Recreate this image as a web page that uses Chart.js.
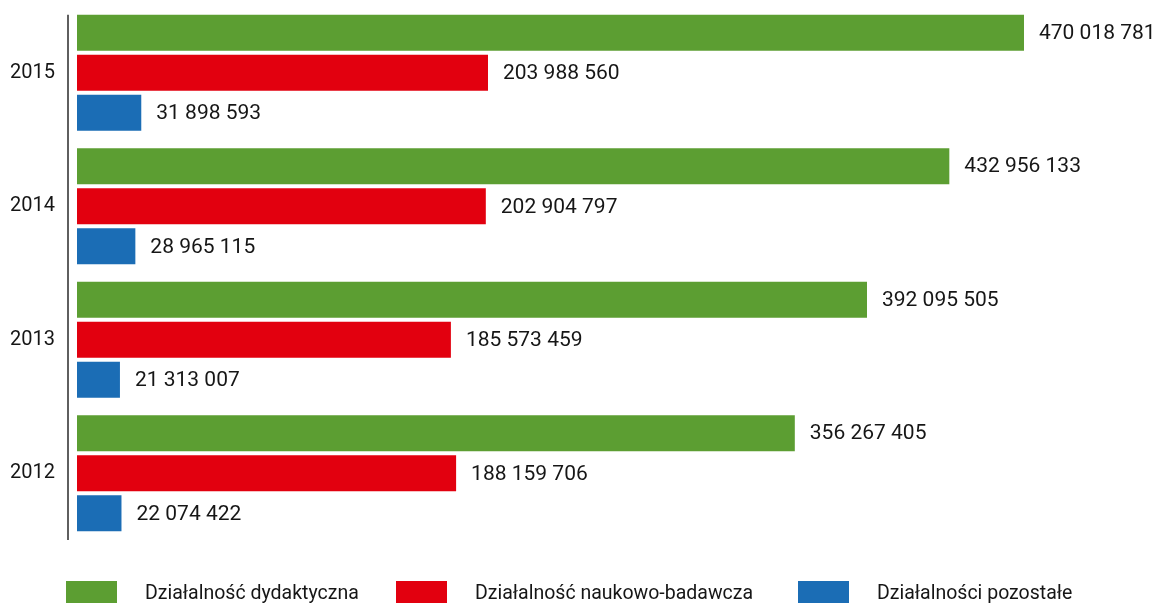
<!DOCTYPE html>
<html lang="pl">
<head>
<meta charset="utf-8">
<title>Działalność – przychody 2012–2015</title>
<script src="https://cdn.jsdelivr.net/npm/chart.js@4.4.1/dist/chart.umd.min.js"></script>
<style>
  html, body { margin: 0; padding: 0; background: #ffffff; overflow: hidden; }
  #wrap { position: relative; width: 1160px; height: 603px; }
</style>
</head>
<body>
<div id="wrap"><canvas id="chart" width="1160" height="603"></canvas></div>
<script>
// Years, top to bottom
const years = ['2015', '2014', '2013', '2012'];

// Series names
const seriesNames = [
  'Działalność dydaktyczna',
  'Działalność naukowo-badawcza',
  'Działalności pozostałe'
];

// Values per series, in the same order as the years
const dydaktyczna = [470018781, 432956133, 392095505, 356267405];
const naukowoBadawcza = [203988560, 202904797, 185573459, 188159706];
const pozostale = [31898593, 28965115, 21313007, 22074422];

const seriesColors = ['#5c9e32', '#e2000f', '#1b6db5'];

const FONT = 'Roboto, "Liberation Sans", sans-serif';
const TEXT = '#161616';

// Numbers with spaces as thousands separators
function fmt(v) {
  return String(v).replace(/\B(?=(\d{3})+(?!\d))/g, ' ');
}

// Vertical axis line, from the top of the first bar down to the bottom of the plot
const axisLine = {
  id: 'axisLine',
  beforeDatasetsDraw(chart) {
    const first = chart.getDatasetMeta(0).data[0];
    if (!first) return;
    const {ctx, chartArea} = chart;
    const top = first.y - first.height / 2;
    ctx.save();
    ctx.strokeStyle = '#2a2a2a';
    ctx.lineWidth = 1.5;
    ctx.beginPath();
    ctx.moveTo(chartArea.left, top);
    ctx.lineTo(chartArea.left, chartArea.bottom);
    ctx.stroke();
    ctx.restore();
  }
};

// Value written to the right of each bar
const valueLabels = {
  id: 'valueLabels',
  afterDatasetsDraw(chart) {
    const ctx = chart.ctx;
    ctx.save();
    ctx.font = '21px ' + FONT;
    ctx.fillStyle = TEXT;
    ctx.textAlign = 'left';
    ctx.textBaseline = 'middle';
    chart.data.datasets.forEach((ds, di) => {
      chart.getDatasetMeta(di).data.forEach((bar, i) => {
        ctx.fillText(fmt(ds.data[i]), bar.x + 15, bar.y + 1);
      });
    });
    ctx.restore();
  }
};

// Legend row along the bottom edge
const bottomLegend = {
  id: 'bottomLegend',
  afterDraw(chart) {
    const ctx = chart.ctx;
    const columns = [66, 396, 798];
    const boxW = 51, boxTop = 581, boxH = 30;
    ctx.save();
    ctx.font = '19.5px ' + FONT;
    ctx.textAlign = 'left';
    ctx.textBaseline = 'alphabetic';
    chart.data.datasets.forEach((ds, di) => {
      const x = columns[di];
      ctx.fillStyle = ds.backgroundColor;
      ctx.fillRect(x, boxTop, boxW, boxH);
      ctx.fillStyle = TEXT;
      ctx.fillText(ds.label, x + 79, 599);
    });
    ctx.restore();
  }
};

new Chart(document.getElementById('chart'), {
  type: 'bar',
  data: {
    labels: years,
    datasets: [
      { label: seriesNames[0], data: dydaktyczna, backgroundColor: seriesColors[0] },
      { label: seriesNames[1], data: naukowoBadawcza, backgroundColor: seriesColors[1] },
      { label: seriesNames[2], data: pozostale, backgroundColor: seriesColors[2] }
    ]
  },
  options: {
    indexAxis: 'y',
    responsive: false,
    animation: false,
    devicePixelRatio: 1,
    layout: { padding: { left: 10, right: 120, top: 6, bottom: 63 } },
    datasets: {
      bar: { categoryPercentage: 0.9, barPercentage: 0.9, borderWidth: 0 }
    },
    scales: {
      x: {
        display: false,
        min: -4466916,
        max: 477959963
      },
      y: {
        afterFit(scale) {
          scale.width = 58;
          scale.paddingTop = 0;
          scale.paddingBottom = 0;
        },
        grid: { display: false, drawTicks: false },
        border: { display: false },
        ticks: {
          color: TEXT,
          padding: 13,
          font: { family: FONT, size: 20 }
        }
      }
    },
    plugins: {
      legend: { display: false },
      tooltip: { enabled: false }
    }
  },
  plugins: [axisLine, valueLabels, bottomLegend]
});
</script>
</body>
</html>
